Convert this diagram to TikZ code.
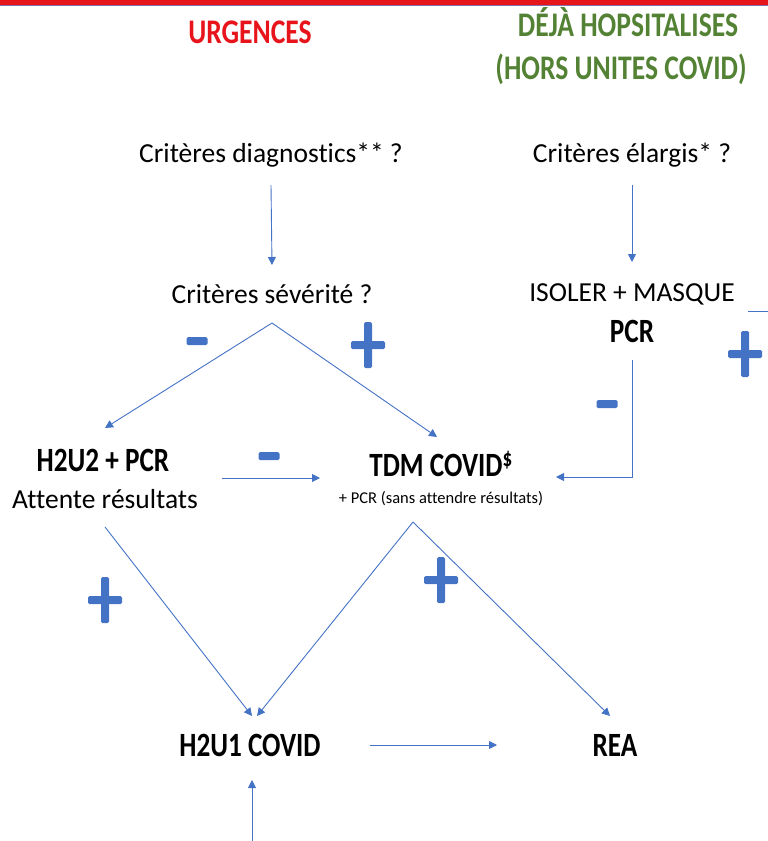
\documentclass[tikz,border=0pt]{standalone}
\usepackage{fontspec}
\setmainfont{Carlito}[Ligatures=NoCommon]
\newfontfamily\condb{Carlito}[FakeStretch=0.8,Ligatures=NoCommon]
\usepackage{xcolor}
\definecolor{acc}{HTML}{4472C4}
\definecolor{urg}{HTML}{E8141B}
\definecolor{hosp}{HTML}{548235}
\definecolor{band}{HTML}{7F6FAE}
\usetikzlibrary{arrows.meta,positioning}
\tikzset{
  >={Triangle[length=8pt,width=8pt]},
  txt/.style={anchor=base,inner sep=0pt,font=\fontsize{27.5}{30}\selectfont},
  btxt/.style={anchor=base,inner sep=0pt,font=\condb\bfseries\fontsize{34}{36}\selectfont},
  head/.style={anchor=base,inner sep=0pt,font=\condb\bfseries\fontsize{34.5}{37}\selectfont},
  note/.style={anchor=base,inner sep=0pt,font=\fontsize{16.5}{18}\selectfont},
  arr/.style={->,draw=acc,line width=0.9pt},
  link/.style={draw=acc,line width=0.9pt},
  minus/.style={fill=acc,minimum width=21pt,minimum height=8pt,inner sep=0pt,rounded corners=1.5pt},
  plus/.style={minimum width=34pt,minimum height=46pt,inner sep=0pt,
    path picture={
      \fill[acc,rounded corners=1.5pt] ([yshift=-4pt]path picture bounding box.west) rectangle ([yshift=4pt]path picture bounding box.east);
      \fill[acc,rounded corners=1.5pt] ([xshift=-4pt]path picture bounding box.south) rectangle ([xshift=4pt]path picture bounding box.north);}},
}
\begin{document}
\begin{tikzpicture}[x=1pt,y=-1pt]
\useasboundingbox (0,0) rectangle (768,841);
\fill[urg] (0,0) rectangle (768,4.5);
\fill[band] (0,4.5) rectangle (768,6);
\node[head,urg] (urg) at (250,43) {URGENCES};
\node[head,hosp] (hosp1) at (628,36) {DÉJÀ HOPSITALISES};
\node[head,hosp] (hosp2) at (621,79) {(HORS UNITES COVID)};
\node[txt] (diag) at (271,162) {Critères diagnostics** ?};
\node[txt] (elarg) at (632,162) {Critères élargis* ?};
\node[txt] (sev) at (272,303) {Critères sévérité ?};
\node[txt] (isol) at (632,301) {ISOLER + MASQUE};
\node[btxt] (pcr) at (632,342) {PCR};
\node[btxt] (h2u2) at (103,471) {H2U2 + PCR};
\node[txt] (wait) at (105,508) {Attente résultats};
\node[btxt] (tdm) at (441,476) {TDM COVID\textsuperscript{\$}};
\node[note] (tdmpcr) at (441,503) {+ PCR (sans attendre résultats)};
\node[btxt] (h2u1) at (250,756) {H2U1 COVID};
\node[btxt] (rea) at (615,756) {REA};
\node[minus] (m1) at (197,341) {};
\node[plus] (p1) at (368,345) {};
\node[plus] (p2) at (745,354) {};
\node[minus] (m2) at (607,404) {};
\node[minus] (m3) at (269,456) {};
\node[plus] (p3) at (105,600) {};
\node[plus] (p4) at (441,580) {};
\coordinate (sevapex) at ([yshift=-20pt]sev.base);
\coordinate (tdmapex) at ([shift={(-28pt,-19pt)}]tdmpcr.base);
\coordinate (bot) at (252,841);
\coordinate (redge) at (768,311);
\draw[arr] ([yshift=-23pt]diag.base) -- ([yshift=38pt]sev.base);
\draw[arr] ([yshift=-23pt]elarg.base) -- ([yshift=39pt]isol.base);
\draw[arr] (sevapex) -- ([shift={(2pt,43pt)}]h2u2.base);
\draw[arr] (sevapex) -- ([shift={(-4pt,39pt)}]tdm.base);
\draw[arr] ([yshift=-18pt]pcr.base) |- ([shift={(115pt,-1pt)}]tdm.base);
\draw[link] ([shift={(116pt,-10pt)}]isol.base) -- (redge);
\draw[arr] ([shift={(119pt,-7pt)}]h2u2.base) -- ([shift={(-121pt,-2pt)}]tdm.base);
\draw[arr] ([yshift=-19pt]wait.base) -- ([shift={(2pt,40pt)}]h2u1.base);
\draw[arr] (tdmapex) -- ([shift={(7pt,40pt)}]h2u1.base);
\draw[arr] (tdmapex) -- ([shift={(-5pt,40pt)}]rea.base);
\draw[arr] ([shift={(120pt,11pt)}]h2u1.base) -- ([shift={(-118pt,11pt)}]rea.base);
\draw[arr] (bot) -- ([shift={(2pt,-24pt)}]h2u1.base);
\end{tikzpicture}
\end{document}
